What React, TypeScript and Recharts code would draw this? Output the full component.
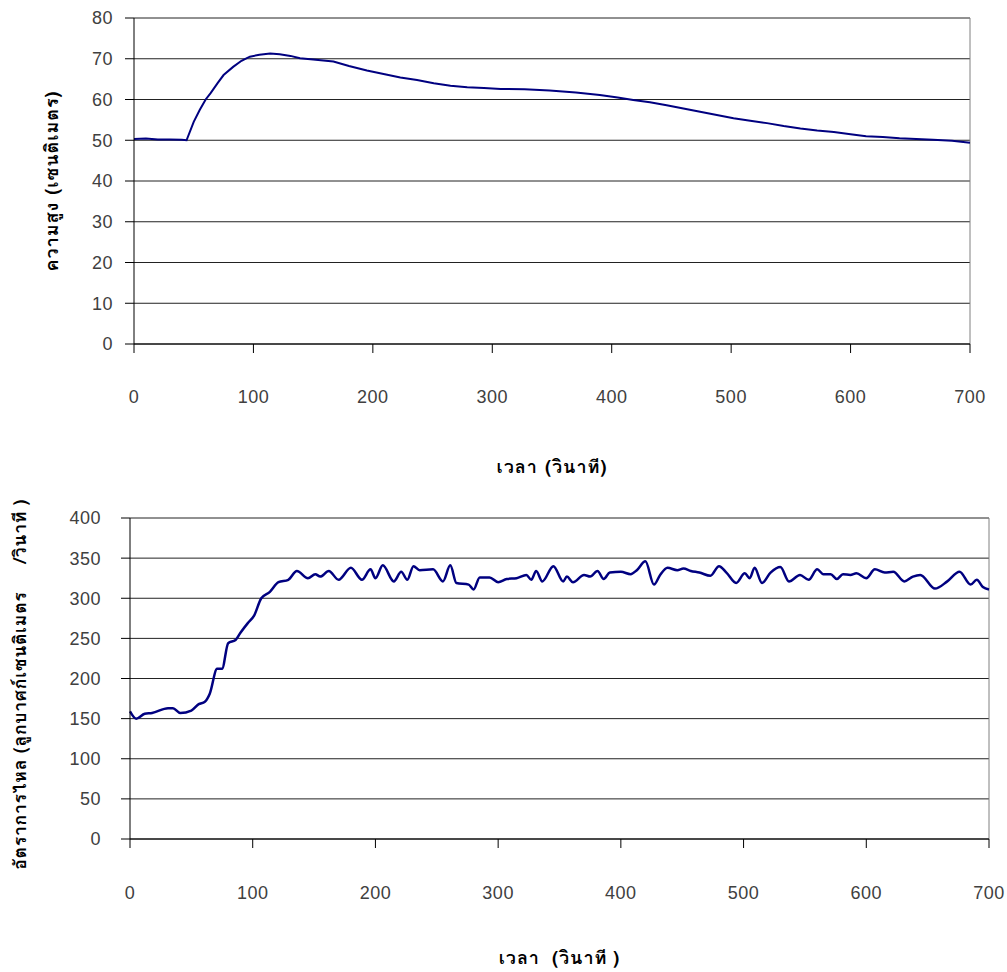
import React from "react";
import {
  LineChart,
  Line,
  XAxis,
  YAxis,
  CartesianGrid,
  ReferenceLine,
  Label,
} from "recharts";

// top panel: water level (cm) against time (s)
const levelTime = [
  0, 10, 20, 30, 40, 44, 50, 55, 60, 64, 70, 75, 83, 90, 97, 105, 114, 122,
  131, 139, 150, 167, 180, 195, 210, 223, 237, 251, 265, 279, 293, 307, 327,
  348, 370, 390, 405, 418, 432, 446, 460, 474, 488, 502, 516, 530, 544, 558,
  572, 586, 600, 613, 627, 641, 655, 669, 685, 700,
];
const levelCm = [
  50.3, 50.4, 50.2, 50.2, 50.1, 50.0, 54.5, 57.4, 60.0, 61.5, 64.0, 66.0, 68.0,
  69.5, 70.5, 71.0, 71.3, 71.1, 70.7, 70.1, 69.8, 69.3, 68.2, 67.1, 66.2, 65.4,
  64.8, 64.0, 63.4, 63.0, 62.8, 62.6, 62.5, 62.2, 61.7, 61.1, 60.5, 59.9, 59.3,
  58.6, 57.8, 57.0, 56.2, 55.4, 54.8, 54.2, 53.5, 52.9, 52.4, 52.0, 51.5, 51.0,
  50.8, 50.5, 50.3, 50.1, 49.9, 49.4,
];

// bottom panel: flow rate (cm3/s) against time (s)
const flowTime = [
  0, 5, 12, 18, 31, 35, 41, 50, 56, 61, 65, 71, 75, 80, 86, 90, 96, 101, 107,
  114, 121, 129, 136, 145, 151, 155, 162, 170, 180, 189, 196, 200, 206, 215,
  221, 226, 231, 236, 247, 255, 261, 266, 276, 280, 285, 293, 300, 307, 315,
  323, 327, 331, 336, 345, 353, 356, 361, 370, 375, 381, 386, 391, 400, 408,
  413, 420, 427, 432, 438, 446, 451, 457, 464, 473, 480, 486, 494, 501, 505,
  509, 515, 522, 530, 537, 546, 553, 560, 565, 571, 576, 581, 587, 592, 600,
  607, 615, 622, 631, 638, 644, 656, 666, 676, 685, 690, 695, 700,
];
const flowRate = [
  159, 150, 156, 157, 163, 163, 157, 160, 168, 171, 181, 212, 212, 244, 248,
  257, 269, 278, 300, 308, 320, 323, 334, 325, 330, 327, 334, 323, 338, 323,
  336, 325, 341, 321, 333, 323, 340, 335, 336, 321, 341, 319, 317, 311, 326,
  326, 320, 324, 325, 329, 323, 334, 321, 340, 321, 327, 320, 329, 327, 334,
  324, 332, 333, 330, 335, 346, 317, 329, 338, 335, 337, 334, 332, 328, 340,
  332, 319, 331, 325, 338, 319, 332, 339, 321, 329, 323, 336, 330, 330, 324,
  330, 329, 331, 325, 336, 332, 333, 321, 327, 329, 312, 321, 333, 317, 323,
  314, 311,
];

const timeTicks = [0, 100, 200, 300, 400, 500, 600, 700];
const levelTicks = [0, 10, 20, 30, 40, 50, 60, 70, 80];
const flowTicks = [0, 50, 100, 150, 200, 250, 300, 350, 400];

const NB = "\u00A0";
const xTitleTop = "เวลา (วินาที)";
const xTitleBottom = `เวลา${NB}${NB}(วินาที${NB})`;
const yTitleTop = "ความสูง (เซนติเมตร)";
// trailing spaces nudge the rotated text down a little, as in the original
const yTitleBottom = `อัตราการไหล${NB}(ลูกบาศก์เซนติเมตร${NB.repeat(5)}/วินาที${NB})${NB}${NB}`;

const levelData = levelTime.map((t, i) => ({ t, v: levelCm[i] }));
const flowData = flowTime.map((t, i) => ({ t, v: flowRate[i] }));

const tickStyle = {
  fill: "#404040",
  fontSize: 18,
  letterSpacing: 0.5,
  fontFamily: "'Liberation Sans', Arial, sans-serif",
};
const thaiFont =
  "Loma, Garuda, Tahoma, 'Noto Sans Thai Looped', 'Noto Sans Thai', 'Noto Sans', sans-serif";
const titleStyle = {
  fill: "#000",
  fontSize: 18,
  fontWeight: 700,
  letterSpacing: 1,
  fontFamily: thaiFont,
  textAnchor: "middle" as const,
};

export default function App() {
  return (
    <div
      style={{
        position: "absolute",
        left: 0,
        top: 0,
        width: 1007,
        height: 972,
        background: "#fff",
      }}
    >
      <div style={{ position: "absolute", left: 0, top: 0 }}>
        <LineChart
          width={1007}
          height={490}
          data={levelData}
          margin={{ top: 18, right: 37, bottom: 0, left: 0 }}
        >
          <CartesianGrid vertical={false} stroke="#222" />
          <XAxis
            dataKey="t"
            type="number"
            domain={[0, 700]}
            ticks={timeTicks}
            height={146}
            tickSize={9}
            tickMargin={37}
            tick={tickStyle}
            stroke="#000"
          >
            <Label
              value={xTitleTop}
              position="insideBottom"
              offset={17}
              style={titleStyle}
            />
          </XAxis>
          <YAxis
            type="number"
            domain={[0, 80]}
            ticks={levelTicks}
            width={134}
            tickSize={9}
            tickMargin={12}
            tick={tickStyle}
            stroke="#000"
          >
            <Label
              value={yTitleTop}
              angle={-90}
              position="insideLeft"
              offset={52}
              style={titleStyle}
            />
          </YAxis>
          <ReferenceLine x={700} stroke="#808080" />
          <Line
            dataKey="v"
            type="linear"
            stroke="#000080"
            strokeWidth={2}
            dot={false}
            isAnimationActive={false}
          />
        </LineChart>
      </div>
      <div style={{ position: "absolute", left: 0, top: 476 }}>
        <LineChart
          width={1007}
          height={496}
          data={flowData}
          margin={{ top: 42, right: 18, bottom: 0, left: 0 }}
        >
          <CartesianGrid vertical={false} stroke="#222" />
          <XAxis
            dataKey="t"
            type="number"
            domain={[0, 700]}
            ticks={timeTicks}
            height={133}
            tickSize={9}
            tickMargin={38}
            tick={tickStyle}
            stroke="#000"
          >
            <Label
              value={xTitleBottom}
              position="insideBottom"
              offset={8}
              style={titleStyle}
            />
          </XAxis>
          <YAxis
            type="number"
            domain={[0, 400]}
            ticks={flowTicks}
            width={130}
            tickSize={9}
            tickMargin={20}
            tick={tickStyle}
            stroke="#000"
          >
            <Label
              value={yTitleBottom}
              angle={-90}
              position="insideLeft"
              offset={20}
              style={{ ...titleStyle, fontSize: 17.5, letterSpacing: 0.8 }}
            />
          </YAxis>
          <ReferenceLine x={700} stroke="#808080" />
          <Line
            dataKey="v"
            type="monotone"
            stroke="#000080"
            strokeWidth={2.5}
            dot={false}
            isAnimationActive={false}
          />
        </LineChart>
      </div>
    </div>
  );
}
